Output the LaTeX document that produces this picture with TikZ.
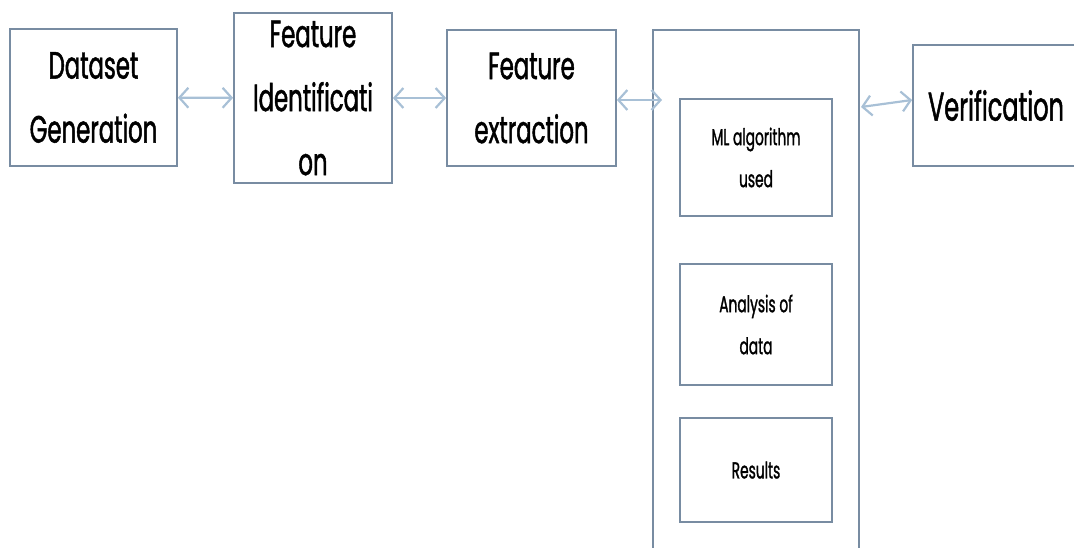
\documentclass[tikz,border=0pt]{standalone}
\usepackage{fontspec}
\setmainfont{Poppins}
\newfontfamily\condfont[FakeStretch=0.6, FakeBold=1.2]{Poppins}
\usetikzlibrary{arrows.meta, positioning}
\definecolor{boxline}{RGB}{120,140,162}
\definecolor{linkline}{RGB}{168,192,214}

\begin{document}
\begin{tikzpicture}[x=1pt, y=-1pt,
  box/.style={draw=boxline, line width=1.8pt, align=center, inner sep=0pt,
    font=\condfont\fontsize{38}{64}\selectfont},
  subbox/.style={box, minimum width=152pt, font=\condfont\fontsize{23}{42}\selectfont},
  link/.style={{Straight Barb[length=9pt,width=20pt]}-{Straight Barb[length=9pt,width=20pt]},
    linkline, line width=2.2pt}]
  \useasboundingbox (0,0) rectangle (1074,547);
  \clip (0,0) rectangle (1074,547);
  % Pipeline steps
  \node[box, minimum width=167pt, minimum height=137pt] (dataset) at (93.5,97.5) {Dataset\\Generation};
  \node[box, minimum width=158pt, minimum height=170pt] (ident) at (313,98) {Feature\\Identificati\\on};
  \node[box, minimum width=169pt, minimum height=136pt] (extract) at (531.5,98) {Feature\\extraction};
  % Model block, open at the bottom
  \node[box, minimum width=206pt, minimum height=570pt] (model) at (756,315) {};
  \node[subbox, minimum height=117pt] (mlalgo) at (756,157.5) {ML algorithm\\used};
  \node[subbox, minimum height=121pt] (analysis) at (756,324.5) {Analysis of\\data};
  \node[subbox, minimum height=104pt] (results) at (756,470) {Results};
  \node[box, minimum width=166pt, minimum height=121pt, font=\condfont\fontsize{40}{64}\selectfont] (verif) at (996,105.5) {Verification};
  % Links
  \coordinate (modelin) at (662,100);
  \coordinate (modelout) at (861,107);
  \draw[link] (dataset) -- (ident);
  \draw[link] (ident) -- (extract);
  \draw[link] (extract.east |- modelin) -- (modelin);
  \draw[link] (modelout) -- ([yshift=5.5pt]verif.west);
\end{tikzpicture}
\end{document}
